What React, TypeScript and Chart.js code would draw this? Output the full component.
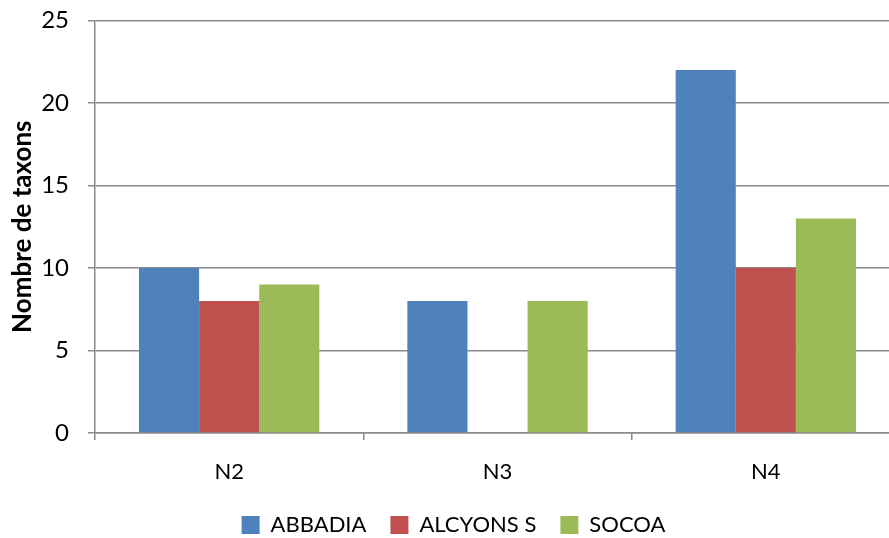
import { useEffect, useRef } from "react";
import { Chart, registerables } from "chart.js";

Chart.register(...registerables);

const categories = ["N2", "N3", "N4"];
const abbadia = [10, 8, 22];
const alcyons = [8, 0, 10];
const socoa = [9, 8, 13];
const yTicks = [0, 5, 10, 15, 20, 25];

const FONT = "Lato, 'Open Sans', sans-serif";
const AXIS_GRAY = "#8a8a8a";

export default function App() {
  const canvasRef = useRef<HTMLCanvasElement | null>(null);

  useEffect(() => {
    document.body.style.margin = "0";
    document.body.style.overflow = "hidden";
    const canvas = canvasRef.current;
    if (!canvas) return;
    const chart = new Chart(canvas, {
      type: "bar",
      data: {
        labels: categories,
        datasets: [
          { label: "ABBADIA", data: abbadia, backgroundColor: "#4F81BD" },
          { label: "ALCYONS S", data: alcyons, backgroundColor: "#C0504D" },
          { label: "SOCOA", data: socoa, backgroundColor: "#9BBB59" },
        ],
      },
      options: {
        responsive: false,
        animation: false,
        layout: { autoPadding: false, padding: { left: 7, right: 0, top: 7, bottom: -8 } },
        datasets: {
          bar: { categoryPercentage: 0.672, barPercentage: 1, borderWidth: 0 },
        },
        plugins: {
          tooltip: { enabled: false },
          legend: {
            position: "bottom",
            labels: {
              font: { family: FONT, size: 22 },
              color: "#000",
              boxWidth: 18,
              boxHeight: 18,
              padding: 24,
            },
          },
        },
        scales: {
          x: {
            grid: {
              offset: true,
              drawOnChartArea: false,
              drawTicks: true,
              tickLength: 7,
              color: AXIS_GRAY,
              lineWidth: 1.5,
            },
            border: { color: AXIS_GRAY, width: 1.5 },
            ticks: {
              font: { family: FONT, size: 22 },
              color: "#000",
              padding: 19,
            },
            afterFit: (scale: any) => {
              scale.height = 57;
            },
          },
          y: {
            min: 0,
            max: 25,
            afterBuildTicks: (scale: any) => {
              scale.ticks = yTicks.map((v) => ({ value: v }));
            },
            grid: {
              color: AXIS_GRAY,
              lineWidth: 1.5,
              tickLength: 7,
            },
            border: { color: AXIS_GRAY, width: 1.5 },
            ticks: {
              font: { family: FONT, size: 24 },
              color: "#000",
              padding: 19,
            },
            title: {
              display: true,
              text: "Nombre de taxons",
              font: { family: FONT, size: 26, weight: "bold" },
              color: "#000",
              padding: { top: 0, bottom: 0 },
            },
            afterFit: (scale: any) => {
              scale.width = 88;
            },
          },
        },
      },
    });
    return () => chart.destroy();
  }, []);

  return (
    <div
      style={{
        position: "fixed",
        left: 0,
        top: 0,
        width: 889,
        height: 538,
        overflow: "hidden",
        background: "#fff",
      }}
    >
      <canvas
        ref={canvasRef}
        width={900}
        height={551}
        style={{ position: "absolute", left: 0, top: -13, width: 900, height: 551 }}
      />
    </div>
  );
}
